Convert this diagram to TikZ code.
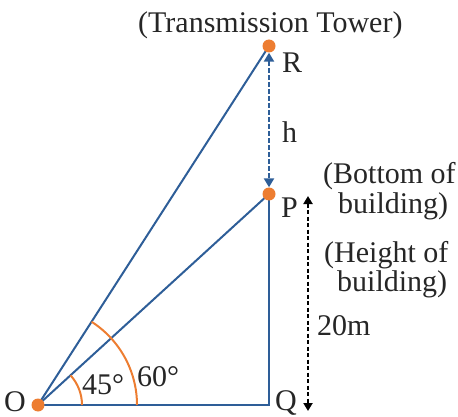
\documentclass[tikz,border=0pt]{standalone}
\usepackage{fontspec}
\setmainfont{Liberation Serif}
\usetikzlibrary{arrows.meta}
\definecolor{lblue}{RGB}{46,94,152}
\definecolor{dorange}{RGB}{237,125,49}
\begin{document}
\begin{tikzpicture}[x=1pt,y=-1pt,
  lbl/.style={font=\fontsize{30}{26}\selectfont,text=black!85,inner sep=0pt,anchor=base west,text height=20pt,text depth=0pt},
  side/.style={draw=lblue,line width=2pt},
  dotp/.style={circle,fill=dorange,minimum size=13pt,inner sep=0pt},
  angarc/.style={draw=dorange,line width=2pt}]
\useasboundingbox (0,0) rectangle (458,417);
\coordinate (O) at (38,405);
\coordinate (Q) at (269,405);
\coordinate (P) at (269,194);
\coordinate (R) at (269,46);
\draw[side,line join=miter] (O) -- (Q) -- (P);
\draw[side] (O) -- (P);
\draw[side] (O) -- (R);
% angle arcs
\draw[angarc] ([xshift=44pt]O) arc[start angle=0,end angle=42.4,radius=44pt];
\draw[angarc] ([xshift=99pt]O) arc[start angle=0,end angle=57.2,radius=99pt];
\node[dotp] (o) at (O) {};
\node[dotp] (p) at (P) {};
\node[dotp] (r) at (R) {};
% blue dashed arrow R-P
\draw[draw=lblue,line width=2.4pt,dash pattern=on 4.5pt off 2.5pt,{Triangle[length=9pt,width=10pt]}-{Triangle[length=9pt,width=10pt]}] (r.south) -- (p.north);
% black dashed arrow
\coordinate (ht) at (308,196);
\coordinate (hb) at (308,411);
\draw[line width=2.4pt,dash pattern=on 4pt off 2.5pt,{Triangle[length=8pt,width=9pt]}-{Triangle[length=8pt,width=9pt]}] (ht) -- (hb);
\node[lbl] (tt) at (138,33) {(Transmission Tower)};
\node[lbl] (rl) at (282,73) {R};
\node[lbl] (hl) at (282,143) {h};
\node[lbl] (bb) at (323,184) {(Bottom of};
\node[lbl] (bb2) at (338,214) {building)};
\node[lbl] (pl) at (281,217) {P};
\node[lbl] (hh) at (324,262) {(Height of};
\node[lbl] (hh2) at (337,291) {building)};
\node[lbl] (m) at (317,335) {20m};
\node[lbl] (ol) at (4,411) {O};
\node[lbl] (ql) at (275,410) {Q};
\node[lbl] (a45) at (82,394) {45°};
\node[lbl] (a60) at (137,386) {60°};
\end{tikzpicture}
\end{document}
